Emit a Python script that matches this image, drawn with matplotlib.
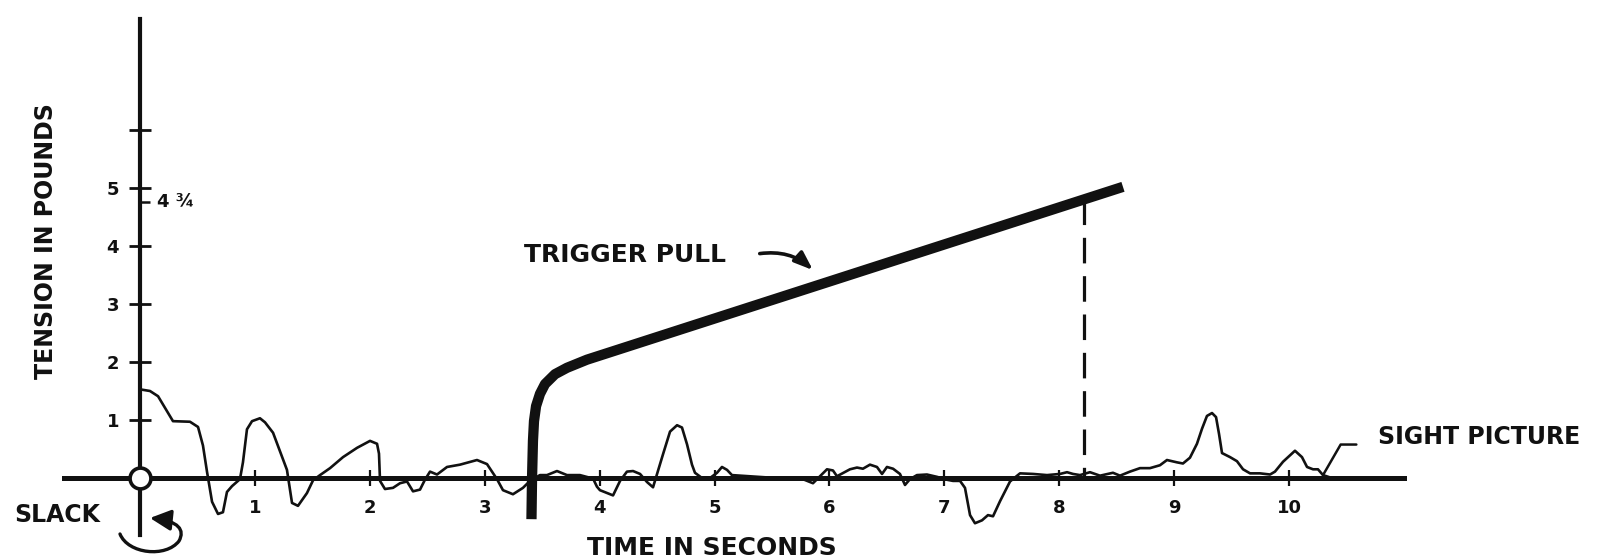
import matplotlib
matplotlib.use("Agg")
import numpy as np
import matplotlib.pyplot as plt
from matplotlib.path import Path
from matplotlib.patches import FancyArrowPatch
import matplotlib.transforms as mtransforms

# ---- data -------------------------------------------------------------
# Sight-picture trace (seconds, apparent tension in pounds)
sight_t = [0.026, 0.087, 0.157, 0.235, 0.287, 0.435, 0.505, 0.548, 0.583, 0.627,
           0.679, 0.722, 0.757, 0.801, 0.870, 0.896, 0.931, 0.975, 1.044, 1.088,
           1.158, 1.236, 1.279, 1.305, 1.323, 1.375, 1.453, 1.506, 1.567, 1.654,
           1.767, 1.889, 2.002, 2.063, 2.080, 2.089, 2.132, 2.202, 2.263, 2.324,
           2.376, 2.437, 2.480, 2.524, 2.585, 2.672, 2.785, 2.933, 3.020, 3.107,
           3.159, 3.246, 3.333, 3.394,
           3.481, 3.542, 3.629, 3.716, 3.829, 3.943, 3.977, 4.003, 4.117, 4.178,
           4.238, 4.291, 4.352, 4.413, 4.465, 4.500, 4.552, 4.613, 4.674, 4.717,
           4.761, 4.804, 4.830, 4.891, 4.961, 5.022, 5.065, 5.109, 5.152, 5.309,
           5.457, 5.744, 5.857, 5.918, 5.979, 6.031, 6.066, 6.179, 6.240, 6.292,
           6.353, 6.414, 6.458, 6.501, 6.554, 6.614, 6.658, 6.701, 6.762, 6.849,
           6.936, 7.023, 7.076, 7.137, 7.180, 7.224, 7.267, 7.328, 7.380, 7.424,
           7.485, 7.572, 7.659, 7.772, 7.894, 8.007, 8.068, 8.120, 8.181, 8.268,
           8.355, 8.468, 8.529, 8.616, 8.703, 8.790, 8.877, 8.938, 9.025, 9.077,
           9.138, 9.199, 9.243, 9.286, 9.330, 9.365, 9.391, 9.417, 9.487, 9.547,
           9.600, 9.661, 9.748, 9.835, 9.878, 9.948, 10.052, 10.113, 10.157, 10.209,
           10.252, 10.296, 10.357]
sight_v = [1.52, 1.50, 1.41, 1.15, 0.98, 0.97, 0.88, 0.56, 0.11, -0.41,
           -0.62, -0.59, -0.24, -0.14, -0.02, 0.27, 0.84, 0.98, 1.03, 0.96,
           0.78, 0.37, 0.14, -0.20, -0.43, -0.48, -0.26, -0.04, 0.05, 0.17,
           0.36, 0.52, 0.64, 0.59, 0.42, -0.05, -0.19, -0.17, -0.09, -0.06,
           -0.23, -0.20, -0.03, 0.11, 0.06, 0.19, 0.23, 0.31, 0.24, -0.02,
           -0.21, -0.28, -0.17, -0.05,
           0.05, 0.05, 0.12, 0.05, 0.05, -0.01, -0.15, -0.21, -0.30, -0.05,
           0.11, 0.12, 0.07, -0.07, -0.16, 0.07, 0.41, 0.80, 0.91, 0.87,
           0.58, 0.23, 0.09, 0.00, 0.00, 0.09, 0.19, 0.14, 0.05, 0.03,
           0.01, 0.00, -0.09, 0.03, 0.15, 0.13, 0.03, 0.15, 0.18, 0.16,
           0.23, 0.19, 0.07, 0.19, 0.16, 0.07, -0.12, -0.02, 0.05, 0.06,
           0.02, -0.03, -0.05, -0.05, -0.17, -0.64, -0.78, -0.73, -0.64, -0.66,
           -0.40, -0.06, 0.08, 0.07, 0.05, 0.07, 0.10, 0.07, 0.05, 0.10,
           0.04, 0.09, 0.04, 0.11, 0.17, 0.17, 0.22, 0.31, 0.27, 0.25,
           0.35, 0.59, 0.85, 1.07, 1.12, 1.05, 0.76, 0.43, 0.36, 0.29,
           0.15, 0.08, 0.08, 0.06, 0.11, 0.28, 0.47, 0.36, 0.19, 0.15,
           0.15, 0.05, 0.01]

# Trigger pull (seconds, pounds)
trigger_t = [3.407, 3.412, 3.420, 3.429, 3.447, 3.481, 3.525, 3.612, 3.716, 3.890, 8.555]
trigger_v = [-0.71, 0.00, 0.64, 0.98, 1.24, 1.45, 1.62, 1.79, 1.90, 2.04, 5.02]

shot_time = 8.22          # moment the shot breaks
let_off = 4.75            # marked let-off weight
let_off_label = "4 \u00be"

x_ticks = [1, 2, 3, 4, 5, 6, 7, 8, 9, 10]
x_tick_labels = ["1", "2", "3", "4", "5", "6", "7", "8", "9", "10"]
y_ticks = [1, 2, 3, 4, 5, 6]
y_tick_labels = ["1", "2", "3", "4", "5", ""]

# ---- figure -----------------------------------------------------------
W, H = 1600, 558
fig = plt.figure(figsize=(W / 100, H / 100), dpi=100)
ax = fig.add_axes([0, 0, 1, 1])
ax.set_facecolor("white")

px_per_s, px_per_lb = 114.9, 58.0
x0_px, y0_px = 140.0, 478.0
ax.set_xlim(-x0_px / px_per_s, (W - x0_px) / px_per_s)
ax.set_ylim(-(H - y0_px) / px_per_lb, y0_px / px_per_lb)

ink = "#111111"
font = dict(family="DejaVu Sans", fontweight="bold", color=ink)

# axes through the origin
for side in ("top", "right"):
    ax.spines[side].set_visible(False)
ax.spines["left"].set_position(("data", 0))
ax.spines["bottom"].set_position(("data", 0))
ax.spines["left"].set_bounds(-0.98, 7.91)
ax.spines["bottom"].set_bounds(-0.66, 11.0)
ax.spines["left"].set_linewidth(3.0)
ax.spines["bottom"].set_linewidth(3.6)
ax.spines["left"].set_color(ink)
ax.spines["bottom"].set_color(ink)

ax.set_xticks(x_ticks)
ax.set_xticklabels(x_tick_labels)
ax.set_yticks(y_ticks)
ax.set_yticklabels(y_tick_labels)
ax.set_yticks([let_off], minor=True)
ax.tick_params(axis="x", direction="inout", length=12, width=1.6, pad=9,
               labelsize=13, colors=ink)
ax.tick_params(axis="y", direction="inout", length=16, width=2.0, pad=7,
               labelsize=13, colors=ink)
ax.tick_params(axis="y", which="minor", direction="in", length=7, width=1.8,
               colors=ink)
for lab in ax.get_xticklabels() + ax.get_yticklabels():
    lab.set_fontweight("bold")

# sight picture trace
ax.plot(sight_t, sight_v, color=ink, lw=1.9, zorder=3, clip_on=False)

# trigger pull
ax.plot(trigger_t, trigger_v, color=ink, lw=7.4, solid_capstyle="butt",
        solid_joinstyle="round", zorder=4, clip_on=False)

# dashed drop line where the shot breaks
shot_v = float(np.interp(shot_time, trigger_t, trigger_v))
ax.plot([shot_time, shot_time], [shot_v, 0], color=ink, lw=2.3,
        dashes=(8, 4), zorder=3)

# open circle at the origin
ax.plot([0], [0], marker="o", ms=15, mfc="white", mec=ink, mew=2.6,
        zorder=6, clip_on=False)

# let-off mark label
ax.annotate(let_off_label, xy=(0, let_off), xytext=(12, 0),
            textcoords="offset points", ha="left", va="center",
            fontsize=13, **font)

# ---- text and leaders (positions in figure pixels, y from top) ---------
pix = mtransforms.Affine2D().scale(1 / W, -1 / H).translate(0, 1) + fig.transFigure

fig.text(46, 241, "TENSION IN POUNDS", transform=pix, rotation=90,
         ha="center", va="center", fontsize=17, **font)
fig.text(712, 548, "TIME IN SECONDS", transform=pix, ha="center",
         va="center", fontsize=18, **font)
fig.text(57, 515, "SLACK", transform=pix, ha="center", va="center",
         fontsize=17, **font)
fig.text(625, 255, "TRIGGER PULL", transform=pix, ha="center", va="center",
         fontsize=18, **font)
fig.text(1378, 437, "SIGHT PICTURE", transform=pix, ha="left", va="center",
         fontsize=17, **font)

# slack curl arrow beneath the origin
curl = Path([(120, 534), (128, 554), (166, 558), (179, 541),
             (185, 530), (179, 521), (150, 518)],
            [Path.MOVETO, Path.CURVE4, Path.CURVE4, Path.CURVE4,
             Path.CURVE4, Path.CURVE4, Path.CURVE4])
fig.add_artist(FancyArrowPatch(path=curl, transform=pix,
                               arrowstyle="-|>,head_length=0.9,head_width=0.45",
                               mutation_scale=14, lw=2.4, color=ink))

# trigger pull pointer
fig.add_artist(FancyArrowPatch((757, 254), (815, 272), transform=pix,
                               connectionstyle="arc3,rad=-0.25",
                               arrowstyle="-|>,head_length=0.8,head_width=0.3",
                               mutation_scale=14, lw=2.6, color=ink))

# sight picture leader
ax.annotate("", xy=(sight_t[-2], sight_v[-2]), xytext=(24, 22),
            textcoords="offset points",
            arrowprops=dict(arrowstyle="-", lw=1.8, color=ink,
                            shrinkA=0, shrinkB=0,
                            connectionstyle="angle,angleA=0,angleB=60,rad=0"))

fig.savefig("out.png", dpi=100, facecolor="white")
